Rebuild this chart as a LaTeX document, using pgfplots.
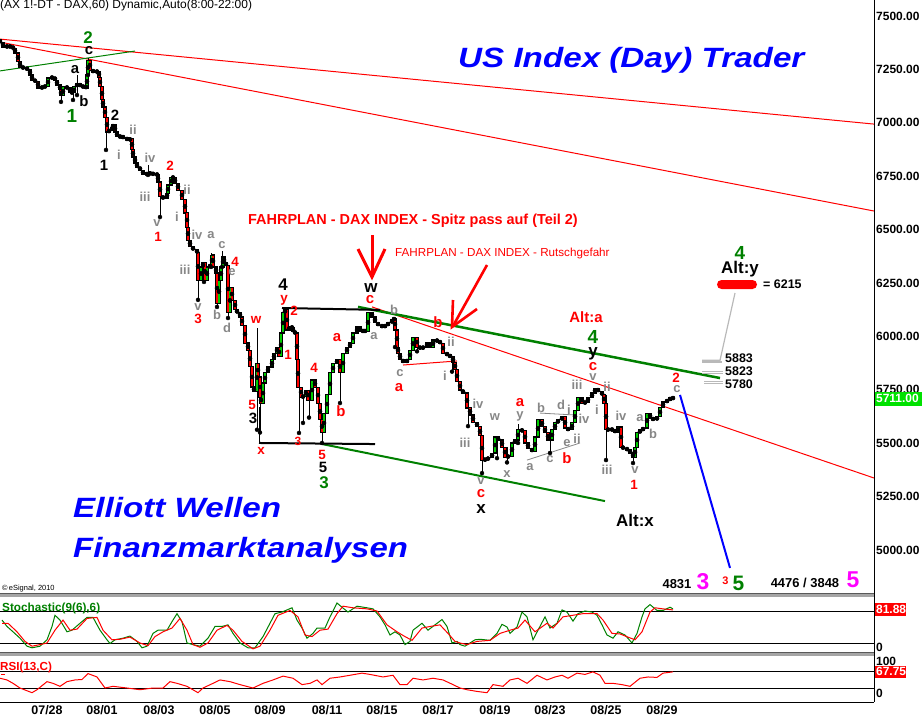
\documentclass[border=0pt]{standalone}
\usepackage{pgfplots}
\pgfplotsset{compat=1.18}
\usepackage{pgfplotstable}
\usepackage{graphicx}
\usepackage{fontspec}
\setmainfont{Liberation Sans}
\newcommand{\fs}[1]{\fontsize{#1}{#1}\selectfont}

\definecolor{egreen}{RGB}{0,128,0}
\definecolor{cgreen}{RGB}{0,205,0}
\definecolor{egray}{RGB}{135,135,135}
\definecolor{emag}{RGB}{255,0,255}
\definecolor{eblue}{RGB}{0,0,255}
\definecolor{lime}{RGB}{0,225,0}
\definecolor{sepgray}{RGB}{165,165,165}
\definecolor{tgray}{RGB}{185,185,185}

\pgfplotstableread{
x o c
0 7390 7374
3 7374 7355
7 7355 7360
10 7360 7355
13 7355 7350
15 7350 7327
18 7327 7285
20 7285 7261
23 7261 7257
27 7257 7250
30 7250 7224
32 7224 7200
35 7200 7195
38 7195 7163
42 7163 7168
45 7168 7172
48 7172 7210
52 7210 7214
55 7214 7200
57 7200 7177
60 7177 7154
61 7154 7126
63 7126 7168
67 7168 7163
70 7163 7144
72 7144 7140
74 7140 7168
77 7168 7186
80 7186 7168
83 7168 7172
86 7172 7163
87 7163 7224
88 7224 7294
90 7294 7247
93 7247 7238
97 7238 7242
99 7242 7214
100 7214 7168
102 7168 7107
103 7107 7074
105 7074 7027
107 7027 6957
109 6957 6966
112 6966 6980
113 6980 6990
115 6990 6957
117 6957 6934
120 6934 6938
123 6938 6929
127 6929 6920
130 6920 6925
132 6925 6873
133 6873 6840
135 6840 6812
137 6812 6793
140 6793 6779
143 6779 6756
147 6756 6765
150 6765 6762
153 6762 6760
157 6760 6756
158 6756 6723
160 6723 6653
163 6653 6648
167 6648 6671
168 6671 6709
171 6709 6746
173 6746 6742
175 6742 6718
178 6718 6685
182 6685 6639
185 6639 6578
187 6578 6512
188 6512 6451
190 6451 6419
193 6419 6405
197 6405 6391
198 6391 6264
201 6264 6325
203 6325 6344
205 6344 6264
207 6264 6325
210 6325 6334
212 6334 6381
213 6381 6325
216 6325 6297
217 6297 6156
219 6156 6264
221 6264 6325
223 6325 6372
224 6372 6344
226 6344 6334
228 6334 6110
230 6110 6227
232 6227 6170
235 6170 6124
237 6124 6110
240 6110 6091
242 6091 6053
245 6053 5969
248 5969 5936
250 5936 5857
252 5857 5763
254 5763 5740
257 5740 5875
258 5875 5810
260 5810 5716
261 5716 5688
263 5688 5782
265 5782 5829
268 5829 5857
272 5857 5890
274 5890 5922
277 5922 5950
279 5950 5904
281 5904 6016
283 6016 6110
285 6110 6124
287 6124 6030
289 6030 6044
292 6044 6040
293 6040 6021
295 6021 6016
297 6016 5890
298 5890 5763
301 5763 5716
303 5716 5720
306 5720 5749
308 5749 5702
312 5702 5796
315 5796 5763
318 5763 5688
320 5688 5609
322 5609 5548
324 5548 5641
327 5641 5726
330 5726 5829
333 5829 5875
337 5875 5890
340 5890 5829
343 5829 5922
347 5922 5950
350 5950 5969
353 5969 6016
357 6016 6044
360 6044 6021
363 6021 6030
365 6030 6021
368 6021 6110
372 6110 6091
375 6091 6063
378 6063 6053
382 6053 6044
385 6044 6053
388 6053 6063
392 6063 6077
394 6077 6086
395 6086 6030
397 6030 5950
398 5950 5922
400 5922 5890
403 5890 5880
407 5880 5890
410 5890 5936
413 5936 5997
417 5997 5950
420 5950 5945
423 5945 5950
427 5950 5969
430 5969 5950
433 5950 5983
437 5983 5978
440 5978 5969
443 5969 5922
447 5922 5913
450 5913 5904
453 5904 5880
455 5880 5843
457 5843 5787
460 5787 5749
463 5749 5735
467 5735 5665
470 5665 5632
473 5632 5599
477 5599 5576
480 5576 5534
482 5534 5421
485 5421 5425
488 5425 5431
492 5431 5454
495 5454 5529
498 5529 5515
502 5515 5482
505 5482 5435
508 5435 5440
512 5440 5501
515 5501 5515
518 5515 5562
522 5562 5558
525 5558 5501
528 5501 5477
532 5477 5459
535 5459 5529
538 5529 5609
542 5609 5576
545 5576 5548
548 5548 5515
552 5515 5562
555 5562 5595
558 5595 5609
562 5609 5623
565 5623 5571
568 5571 5562
572 5562 5595
575 5595 5655
578 5655 5716
582 5716 5688
585 5688 5693
588 5693 5712
592 5712 5735
595 5735 5758
598 5758 5740
602 5740 5726
604 5726 5688
606 5688 5562
608 5562 5566
612 5566 5562
615 5562 5552
618 5552 5576
621 5576 5482
623 5482 5477
627 5477 5468
630 5468 5454
633 5454 5435
635 5435 5482
637 5482 5548
640 5548 5562
643 5562 5571
647 5571 5641
650 5641 5618
653 5618 5609
657 5609 5623
660 5623 5669
663 5669 5693
667 5693 5702
670 5702 5712
673 5712 5711
}\candles

\pgfplotstableread{
x l h
61 7098 7154
73 7107 7168
77 7130 7224
88 7224 7303
106 6873 7027
148 6756 6803
160 6559 6723
198 6171 6391
204 6255 6330
211 6325 6390
217 6138 6297
222 6325 6400
228 6086 6245
257 5563 6039
260 5550 5810
299 5548 5890
303 5595 5720
309 5620 5749
322 5501 5609
340 5688 5890
395 5950 6086
417 5930 5997
452 5835 5904
468 5580 5735
482 5360 5534
497 5430 5529
507 5410 5482
518 5501 5590
550 5454 5562
606 5421 5726
633 5407 5454
}\wicks

\tikzset{
  wl/.style 2 args={inner sep=0pt, text=#1, font=\bfseries\fs{#2}},
  g/.style={wl={egray}{13}},
  r/.style={wl={red}{13.5}},
  R/.style={wl={red}{15}},
  k/.style={wl={black}{15}},
  K/.style={wl={black}{17}},
  G/.style={wl={egreen}{19}},
}
\pgfplotsset{
  panel/.style={scale only axis, width=874bp, xmin=0, xmax=874,
    axis line style={draw=none}, tick style={draw=none}, major tick length=0pt},
}

\begin{document}
\begin{tikzpicture}
% ---------------- price panel
\begin{axis}[panel, at={(0,0)}, anchor=north west, height=593bp,
  ymin=4798.6, ymax=7575, xtick=\empty,
  ytick={5000,5250,5500,5750,6000,6250,6500,6750,7000,7250,7500},
  yticklabel pos=right, scaled y ticks=false,
  yticklabel style={anchor=west, inner sep=0pt, xshift=2bp,
    font=\bfseries\fs{12},
    /pgf/number format/.cd, fixed, fixed zerofill, precision=2, 1000 sep={}, assume math mode=true}]
% trend lines
\addplot[red, line width=1bp] coordinates {(0,7392) (874,6994)};
\addplot[red, line width=1bp] coordinates {(0,7378) (874,6587)};
\addplot[red, line width=1bp] coordinates {(372,6138) (874,5337)};
\addplot[egreen, line width=1bp] coordinates {(0,7243) (135,7336)};
\addplot[egreen, line width=2.5bp] coordinates {(358,6138) (720,5805)};
\addplot[egreen, line width=2bp] coordinates {(322,5496) (605,5229)};
\addplot[black, line width=2bp] coordinates {(282,6133) (380,6124)};
\addplot[black, line width=2bp] coordinates {(259,5501) (375,5496)};
\addplot[black, line width=1bp] coordinates {(259,5669) (259,5501)};
\addplot[red, line width=1bp] coordinates {(403,5866) (457,5885)};
\addplot[egray, line width=0.8bp] coordinates {(527,5421) (580,5501)};
\addplot[egray, line width=0.8bp] coordinates {(540,5641) (575,5632)};
\addplot[eblue, line width=2bp] coordinates {(680,5726) (730,4916)};
\addplot[tgray, line width=1.2bp] coordinates {(735,6203) (720,5888) (702,5888)};
\addplot[tgray, line width=1.2bp] coordinates {(702,5880) (722,5880)};
\addplot[tgray, line width=1.2bp] coordinates {(702,5837) (723,5837)};
\addplot[tgray, line width=1.2bp] coordinates {(702,5828) (723,5828)};
\addplot[tgray, line width=1.2bp] coordinates {(704,5789) (723,5789)};
\addplot[tgray, line width=1.2bp] coordinates {(704,5780) (723,5780)};
% candles
\addplot[only marks, mark=none, error bars/.cd, y dir=plus, y explicit, error mark=none,
  error bar style={black, line width=1bp}]
  table[x=x, y=l, y error expr={\thisrow{h}-\thisrow{l}}] {\wicks};
\addplot[only marks, mark=none, error bars/.cd, y dir=both, y explicit, error mark=none,
  error bar style={black, line width=3.6bp}]
  table[x=x, y expr={(\thisrow{o}+\thisrow{c})/2}, y error expr={abs(\thisrow{c}-\thisrow{o})/2+2.5}] {\candles};
\addplot[only marks, mark=none, restrict expr to domain={\thisrow{c}-\thisrow{o}}{0:100000},
  error bars/.cd, y dir=both, y explicit, error mark=none,
  error bar style={cgreen, line width=1.8bp}]
  table[x=x, y expr={(\thisrow{o}+\thisrow{c})/2}, y error expr={max(abs(\thisrow{c}-\thisrow{o})/2-2.5,0)}] {\candles};
\addplot[only marks, mark=none, restrict expr to domain={\thisrow{c}-\thisrow{o}}{-100000:-0.5},
  error bars/.cd, y dir=both, y explicit, error mark=none,
  error bar style={red, line width=1.8bp}]
  table[x=x, y expr={(\thisrow{o}+\thisrow{c})/2}, y error expr={max(abs(\thisrow{c}-\thisrow{o})/2-2.5,0)}] {\candles};
\end{axis}

% ---------------- stochastic panel
\begin{axis}[panel, at={(0,-596bp)}, anchor=north west, height=56bp,
  ymin=3.1, ymax=108.1, xtick=\empty, ytick=\empty]
\addplot[black, line width=0.9bp] coordinates {(0,80) (874,80)};
\addplot[black, line width=0.9bp] coordinates {(0,20) (874,20)};
\addplot[egreen, line width=1bp] coordinates {
(2,63) (7,51) (13,41) (20,29) (27,14) (32,11) (40,14) (47,26) (52,51) (55,72) (60,63) (67,41) (72,44) (80,57) (87,68) (93,68) (100,44) (107,26) (110,19) (115,26) (123,29) (130,33) (137,23) (142,11) (147,14) (153,38) (158,44) (167,44) (172,60) (177,75) (182,60) (187,20) (193,17) (200,14) (208,29) (215,51) (222,51) (228,54) (233,38) (240,20) (248,11) (255,11) (263,32) (270,57) (275,75) (282,78) (292,86) (297,63) (302,48) (307,29) (313,38) (317,48) (325,48) (330,69) (337,95) (342,87) (348,78) (357,89) (367,86) (373,84) (380,69) (385,54) (390,35) (395,41) (400,35) (405,17) (410,23) (413,44) (422,57) (428,44) (435,54) (442,64) (447,51) (452,20) (457,23) (460,17) (465,14) (475,26) (480,27) (490,25) (497,38) (502,55) (507,50) (510,38) (517,50) (522,78) (527,69) (533,26) (538,44) (545,69) (550,48) (557,57) (562,82) (567,78) (573,61) (578,75) (585,80) (592,78) (597,72) (602,54) (607,35) (613,29) (618,41) (625,35) (632,20) (637,38) (642,69) (645,84) (650,92) (657,81) (663,81) (670,87) (673,84)};
\addplot[red, line width=1bp] coordinates {
(2,57) (8,57) (17,41) (25,23) (32,14) (40,17) (47,20) (55,44) (63,63) (70,44) (77,46) (87,66) (97,68) (103,44) (112,26) (120,27) (130,31) (140,20) (148,15) (155,32) (163,41) (172,48) (180,66) (187,44) (193,17) (200,12) (208,20) (217,44) (227,53) (233,44) (242,23) (253,9) (260,14) (270,44) (278,72) (290,81) (298,69) (305,35) (312,32) (320,44) (328,46) (337,75) (343,89) (353,86) (367,84) (377,80) (387,54) (397,41) (405,32) (412,25) (422,48) (430,51) (440,54) (448,38) (455,23) (460,20) (467,17) (477,23) (490,25) (500,38) (510,44) (518,48) (525,63) (535,41) (547,57) (553,48) (563,69) (573,72) (583,75) (597,75) (603,63) (612,38) (620,37) (628,31) (635,26) (642,41) (650,78) (655,86) (663,84) (673,82)};
\end{axis}

% ---------------- RSI panel
\begin{axis}[panel, at={(0,-656bp)}, anchor=north west, height=46bp,
  ymin=-2.9, ymax=105.3, ytick=\empty,
  xtick={47,102,159,215,270,327,382,438,495,550,606,662},
  xticklabels={07/28,08/01,08/03,08/05,08/09,08/11,08/15,08/17,08/19,08/23,08/25,08/29},
  xticklabel style={anchor=north, inner sep=0pt, yshift=-3bp, font=\bfseries\fs{12.5}}]
\addplot[black, line width=0.9bp] coordinates {(0,70) (874,70)};
\addplot[black, line width=0.9bp] coordinates {(0,30) (874,30)};
\addplot[red, line width=1bp] coordinates {
(0,53) (7,49) (13,41) (20,30) (32,19) (37,26) (47,45) (53,41) (60,34) (67,45) (75,49) (82,50) (88,64) (97,56) (105,30) (113,34) (127,30) (140,26) (153,30) (163,30) (170,45) (177,41) (187,34) (198,19) (203,30) (213,41) (220,49) (230,45) (240,38) (253,30) (263,41) (273,49) (283,58) (293,53) (302,38) (310,41) (317,49) (322,38) (330,53) (340,56) (350,60) (362,65) (370,62) (383,56) (393,60) (400,38) (407,38) (413,53) (423,49) (433,53) (443,49) (453,38) (460,30) (467,26) (477,22) (487,19) (493,38) (503,34) (510,49) (518,53) (527,41) (537,60) (547,49) (555,56) (562,60) (568,53) (577,65) (585,62) (593,68) (600,60) (605,41) (613,41) (622,38) (630,34) (640,53) (648,56) (657,55) (663,65) (673,68)};
\end{axis}

% ---------------- annotations in image pixels
\begin{scope}[x=1bp, y=-1bp]
% frame
\draw[black, line width=1bp] (874,0) -- (874,702);
\draw[black, line width=1bp] (0,702) -- (874,702);
\node[anchor=west, inner sep=0pt, font=\bfseries\fs{12}] at (876,661) {100};
\fill[sepgray] (0,593) rectangle (874,596.5);
\draw[gray!70!black, line width=0.6bp] (0,593.3) -- (874,593.3);
\fill[sepgray] (0,652) rectangle (874,656);
\draw[gray!70!black, line width=0.6bp] (0,652.3) -- (874,652.3);
% value boxes
\fill[lime] (875,392) rectangle (922,405.5);
\node[anchor=west, inner sep=0pt, text=white, font=\bfseries\fs{12}] at (876,398.8) {5711.00};
\fill[red] (875,603) rectangle (906,616);
\node[anchor=west, inner sep=0pt, text=white, font=\bfseries\fs{12}] at (876,609.5) {81.88};
\fill[red] (875,665.5) rectangle (906,678);
\node[anchor=west, inner sep=0pt, text=white, font=\bfseries\fs{12}] at (876,671.8) {67.75};
\node[anchor=west, inner sep=0pt, font=\bfseries\fs{12}] at (876,647) {0};
\node[anchor=west, inner sep=0pt, font=\bfseries\fs{12}] at (876,693) {0};
% panel titles
\node[anchor=base west, inner sep=0pt, text=egreen, font=\bfseries\fs{11.8}] at (2,611) {Stochastic(9(6),6)};
\node[anchor=base west, inner sep=0pt, text=red, font=\bfseries\fs{11.7}] at (0,670) {RSI(13,C)};
\fill[red] (1,673.5) rectangle (5,675);
\node[anchor=base west, inner sep=0pt, font=\fs{12}] at (0,8.5) {(AX 1!-DT - DAX,60) Dynamic,Auto(8:00-22:00)};
\node[anchor=base west, inner sep=0pt, font=\fs{7.5}] at (2,590) {\textcopyright\,eSignal, 2010};
% big blue texts
\node[anchor=base west, inner sep=0pt, text=eblue, font=\bfseries\itshape\fs{28}] at (458,67) {\scalebox{1.19}[1]{US Index (Day) Trader}};
\node[anchor=base west, inner sep=0pt, text=eblue, font=\bfseries\itshape\fs{28}] at (73,517) {\scalebox{1.19}[1]{Elliott Wellen}};
\node[anchor=base west, inner sep=0pt, text=eblue, font=\bfseries\itshape\fs{28}] at (73,557) {\scalebox{1.18}[1]{Finanzmarktanalysen}};
% red headlines and arrows
\node[anchor=base west, inner sep=0pt, text=red, font=\bfseries\fs{14.5}] at (248,224) {FAHRPLAN - DAX INDEX - Spitz pass auf (Teil 2)};
\node[anchor=base west, inner sep=0pt, text=red, font=\fs{11.7}] at (395,256) {FAHRPLAN - DAX INDEX - Rutschgefahr};
\draw[red, line width=3bp] (372,235) -- (372,276);
\draw[red, line width=3bp, line join=miter] (358,249) -- (372,277) -- (385,249);
\draw[red, line width=2.6bp] (487,265) -- (453,326);
\draw[red, line width=2.6bp, line join=miter] (453,300) -- (452,327) -- (477,309);
% target box
\fill[red, rounded corners=4.5bp] (717,280) rectangle (757,289);
\node[anchor=west, inner sep=0pt, font=\bfseries\fs{12.5}] at (763,284.5) {= 6215};
\node[anchor=west, inner sep=0pt, font=\bfseries\fs{12.5}] at (725,358) {5883};
\node[anchor=west, inner sep=0pt, font=\bfseries\fs{12.5}] at (725,371) {5823};
\node[anchor=west, inner sep=0pt, font=\bfseries\fs{12.5}] at (725,384) {5780};
% bottom targets
\node[wl={black}{13}] at (677,584) {4831};
\node[wl={emag}{23}] at (703,582) {3};
\node[wl={red}{11}] at (725.5,581) {3};
\node[wl={egreen}{21}] at (738.5,583) {5};
\node[wl={black}{13}] at (805,583) {4476 / 3848};
\node[wl={emag}{23}] at (853,580) {5};
% wave labels
\node[wl={egreen}{17}] at (88,38) {2};
\node[k] at (89,51) {c};
\node[k] at (75,70) {a};
\node[k] at (84,101) {b};
\node[G] at (72,116) {1};
\node[k] at (115,115) {2};
\node[k] at (104,165) {1};
\node[g] at (133,130) {ii};
\node[g] at (119,155) {i};
\node[g] at (150,158) {iv};
\node[r] at (170,166) {2};
\node[g] at (145,197) {iii};
\node[g] at (187,190) {ii};
\node[g] at (157,223) {v};
\node[r] at (158,237) {1};
\node[g] at (177,217) {i};
\node[g] at (197,235) {iv};
\node[g] at (211,235) {a};
\node[g] at (222,245) {c};
\node[r] at (235,262) {4};
\node[g] at (232,272) {e};
\node[g] at (185,270) {iii};
\node[g] at (198,307) {v};
\node[r] at (198,319) {3};
\node[g] at (217,315) {b};
\node[g] at (227,328) {d};
\node[r] at (256,320) {w};
\node[K] at (283,285) {4};
\node[r] at (284,300) {y};
\node[r] at (294,311) {2};
\node[r] at (288,355) {1};
\node[r] at (252,405) {5};
\node[k] at (253,418) {3};
\node[r] at (261,451) {x};
\node[wl={red}{12}] at (298,441) {3};
\node[r] at (322,455) {5};
\node[k] at (323,467) {5};
\node[wl={egreen}{17}] at (324,483) {3};
\node[r] at (314,368) {4};
\node[R] at (337,338) {a};
\node[R] at (341,411) {b};
\node[K] at (371,288) {w};
\node[R] at (370,300) {c};
\node[g] at (394,310) {b};
\node[g] at (374,336) {a};
\node[g] at (400,373) {c};
\node[R] at (399,388) {a};
\node[R] at (438,322) {b};
\node[g] at (451,342) {ii};
\node[g] at (445,376) {i};
\node[g] at (465,443) {iii};
\node[g] at (478,404) {iv};
\node[g] at (495,417) {w};
\node[g] at (507,474) {x};
\node[g] at (481,481) {v};
\node[R] at (481,494) {c};
\node[K] at (481,509) {x};
\node[R] at (520,403) {a};
\node[g] at (520,416) {y};
\node[g] at (530,467) {a};
\node[g] at (550,459) {c};
\node[R] at (567,458) {b};
\node[g] at (541,408) {b};
\node[g] at (561,405) {d};
\node[g] at (569,410) {i};
\node[g] at (584,419) {iv};
\node[g] at (567,443) {e};
\node[g] at (577,439) {ii};
\node[R] at (586,317) {Alt:a};
\node[G] at (593,337) {4};
\node[K] at (593,354) {y};
\node[R] at (593,367) {c};
\node[g] at (593,377) {v};
\node[g] at (577,385) {iii};
\node[g] at (607,387) {ii};
\node[g] at (597,410) {i};
\node[g] at (621,416) {iv};
\node[g] at (640,418) {a};
\node[g] at (653,434) {b};
\node[r] at (676,378) {2};
\node[g] at (677,389) {c};
\node[g] at (607,470) {iii};
\node[g] at (635,470) {v};
\node[r] at (634,485) {1};
\node[K] at (635,520) {Alt:x};
\node[G] at (740,253) {4};
\node[K] at (740,269) {Alt:y};
\end{scope}
\pgfresetboundingbox
\useasboundingbox (0,0) rectangle (922bp,-718bp);
\end{tikzpicture}
\end{document}
